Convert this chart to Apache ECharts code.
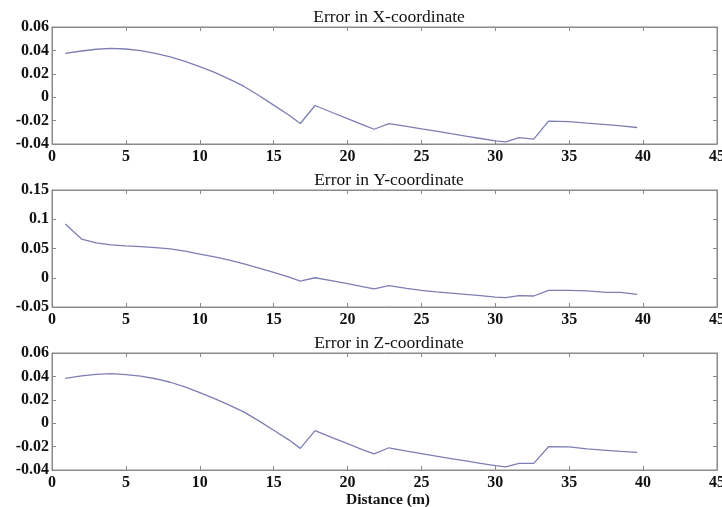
<!DOCTYPE html>
<html>
<head>
<meta charset="utf-8">
<script src="https://cdn.jsdelivr.net/npm/echarts@6/dist/echarts.min.js"></script>
<style>html,body{margin:0;padding:0;background:#fff;}#chart{width:722px;height:507px;}</style>
</head>
<body>
<div id="chart"></div>
<script>
const distance = [0.9, 2, 3, 4, 5, 6, 7, 8, 9, 10, 11, 12, 13, 14, 15, 16, 16.8, 17.8, 19, 20, 21, 21.8, 22.8, 24, 25, 26, 27, 28, 29, 30, 30.7, 31.6, 32.6, 33.6, 35, 36.2, 37.5, 38.5, 39.6];
const errX = [0.0375, 0.0395, 0.041, 0.0418, 0.0412, 0.0398, 0.0375, 0.0345, 0.0307, 0.0262, 0.0212, 0.0155, 0.0092, 0.0015, -0.0068, -0.0150, -0.0225, -0.0071, -0.0133, -0.0183, -0.0234, -0.0274, -0.0225, -0.0249, -0.0270, -0.0290, -0.0312, -0.0333, -0.0353, -0.0373, -0.0382, -0.0345, -0.0359, -0.0205, -0.0208, -0.0222, -0.0235, -0.0245, -0.0259];
const errY = [0.0919, 0.0662, 0.0595, 0.0562, 0.0545, 0.0532, 0.0515, 0.0495, 0.0455, 0.0405, 0.0355, 0.0300, 0.0238, 0.0165, 0.0093, 0.0015, -0.0056, 0.0000, -0.0055, -0.0100, -0.0150, -0.0192, -0.0135, -0.0180, -0.0215, -0.0240, -0.0262, -0.0285, -0.0306, -0.0330, -0.0340, -0.0306, -0.0312, -0.0215, -0.0215, -0.0225, -0.0250, -0.0250, -0.0284];
const errZ = [0.0384, 0.0405, 0.0417, 0.0423, 0.0416, 0.0402, 0.0380, 0.0350, 0.0310, 0.0262, 0.0210, 0.0155, 0.0095, 0.0020, -0.0060, -0.0140, -0.0215, -0.0064, -0.0125, -0.0175, -0.0225, -0.0263, -0.0210, -0.0238, -0.0260, -0.0282, -0.0302, -0.0322, -0.0343, -0.0363, -0.0374, -0.0343, -0.0343, -0.0201, -0.0203, -0.0220, -0.0232, -0.0241, -0.0249];
const xTicks = [0, 5, 10, 15, 20, 25, 30, 35, 40, 45];
const yTicksX = [-0.04, -0.02, 0, 0.02, 0.04, 0.06];
const yTicksY = [-0.05, 0, 0.05, 0.1, 0.15];
const yTicksZ = [-0.04, -0.02, 0, 0.02, 0.04, 0.06];
const titles = ['Error in X-coordinate', 'Error in Y-coordinate', 'Error in Z-coordinate'];
const xLabel = 'Distance (m)';

const FONT = '"Liberation Serif", "Times New Roman", serif';
const AX = '#8a8a8a';
const LINE = '#7e7eb4';
const gridTops = [27, 190, 353];
const gridH = 117;
const yTickSets = [yTicksX, yTicksY, yTicksZ];
const seriesData = [errX, errY, errZ];

const grids = [], xAxes = [], yAxes = [], series = [], titleArr = [];
const titleY = [3, 166, 329];
for (let i = 0; i < 3; i++) {
  grids.push({left: 52, top: gridTops[i], width: 665, height: gridH, show: true, borderColor: AX, borderWidth: 1,
    backgroundColor: 'transparent', containLabel: false, outerBoundsMode: 'none'});
  const xmin = xTicks[0], xmax = xTicks[xTicks.length - 1], xint = xTicks[1] - xTicks[0];
  const yt = yTickSets[i];
  const ymin = yt[0], ymax = yt[yt.length - 1], yint = +(yt[1] - yt[0]).toFixed(4);
  const baseX = {type: 'value', gridIndex: i, min: xmin, max: xmax, interval: xint,
    axisLine: {show: true, onZero: false, lineStyle: {color: AX}}, splitLine: {show: false},
    axisTick: {show: true, inside: true, length: 4, lineStyle: {color: AX}}};
  xAxes.push(Object.assign({}, baseX, {position: 'bottom',
    axisLabel: {show: true, color: '#111', fontFamily: FONT, fontSize: 16, fontWeight: 'bold', margin: 5}}));
  xAxes.push(Object.assign({}, baseX, {position: 'top', axisLabel: {show: false}}));
  const baseY = {type: 'value', gridIndex: i, min: ymin, max: ymax, interval: yint,
    axisLine: {show: true, onZero: false, lineStyle: {color: AX}}, splitLine: {show: false},
    axisTick: {show: true, inside: true, length: 4, lineStyle: {color: AX}}};
  yAxes.push(Object.assign({}, baseY, {position: 'left',
    axisLabel: {show: true, color: '#111', fontFamily: FONT, fontSize: 16, fontWeight: 'bold', margin: 3}}));
  yAxes.push(Object.assign({}, baseY, {position: 'right', axisLabel: {show: false}}));
  series.push({type: 'line', xAxisIndex: 2 * i, yAxisIndex: 2 * i, showSymbol: false, symbol: 'none',
    lineStyle: {color: LINE, width: 1.3}, data: distance.map((d, k) => [d, seriesData[i][k]]), animation: false});
  titleArr.push({text: titles[i], left: 384, top: titleY[i], textAlign: 'center',
    textStyle: {fontFamily: FONT, fontSize: 17.5, fontWeight: 'normal', color: '#111'}});
}
titleArr.push({text: xLabel, left: 383, top: 487, textAlign: 'center',
  textStyle: {fontFamily: FONT, fontSize: 15.5, fontWeight: 'bold', color: '#111'}});

const chart = echarts.init(document.getElementById('chart'), null, {renderer: 'canvas'});
chart.setOption({animation: false, backgroundColor: '#fff', title: titleArr, grid: grids, xAxis: xAxes, yAxis: yAxes, series: series});
</script>
</body>
</html>
